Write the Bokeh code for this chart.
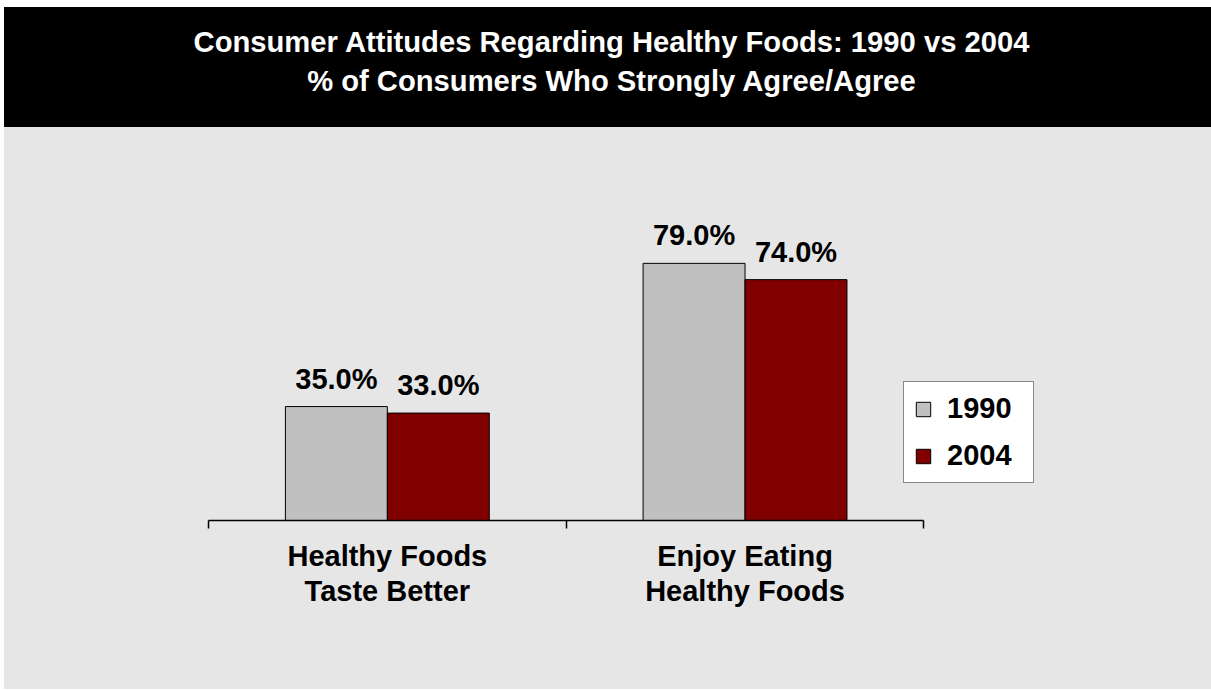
from bokeh.plotting import figure
from bokeh.models import (ColumnDataSource, Range1d, LinearAxis, FixedTicker, Legend,
                          LegendItem, Spacer, Div)
from bokeh.layouts import column, row
from bokeh.embed import file_html
from bokeh.resources import INLINE
from bokeh.core.properties import value

# ---- data ----
categories = ["Healthy Foods\nTaste Better", "Enjoy Eating\nHealthy Foods"]
years = ["1990", "2004"]
values_1990 = [35.0, 79.0]
values_2004 = [33.0, 74.0]
colors = ["#c0c0c0", "#800000"]
title_lines = ["Consumer Attitudes Regarding Healthy Foods: 1990 vs 2004",
               "% of Consumers Who Strongly Agree/Agree"]

FONT = "Liberation Sans"
FS = "29px"
BG = "#e6e6e6"
W = 0.285  # bar width in category units

n = len(categories)
centers = [i + 0.5 for i in range(n)]
src = ColumnDataSource(dict(
    center=centers,
    x1990=[c - W / 2 for c in centers],
    x2004=[c + W / 2 for c in centers],
    v1990=values_1990,
    v2004=values_2004,
    l1990=[f"{v:.1f}%" for v in values_1990],
    l2004=[f"{v:.1f}%" for v in values_2004],
))

# ---- header band ----
header_html = (
    '<div style="box-sizing:border-box;width:1207px;height:120px;margin:0;'
    'background:#000;color:#fff;font-family:\'Liberation Sans\',Arial,sans-serif;'
    'font-weight:bold;font-size:29.2px;line-height:39px;text-align:center;'
    'padding:16px 0 0 8px;white-space:nowrap;">'
    + "<br>".join(title_lines) + "</div>"
)
header = Div(text=header_html, width=1207, height=120, margin=0)

# ---- main chart ----
p = figure(width=1207, height=562,
           x_range=Range1d(0, 2.6), y_range=Range1d(0, 110.6),
           x_axis_location=None, y_axis_location=None, toolbar_location=None,
           output_backend="svg",
           min_border_left=204, min_border_right=73, min_border_top=33, min_border_bottom=169,
           background_fill_color=None, border_fill_color=None, outline_line_color=None,
           styles={"background-color": BG})
p.grid.visible = False

tick_axis = LinearAxis(ticker=FixedTicker(ticks=list(range(n + 1)), minor_ticks=[]),
                       bounds=(0, n),
                       major_label_overrides={i: "" for i in range(n + 1)},
                       major_label_text_font_size="0px", major_label_standoff=0,
                       major_tick_in=0, major_tick_out=8,
                       axis_line_color="black", axis_line_width=1.5,
                       major_tick_line_color="black", major_tick_line_width=1.5)
p.add_layout(tick_axis, "below")

cat_axis = LinearAxis(ticker=FixedTicker(ticks=centers, minor_ticks=[]),
                      major_label_overrides={c: lab for c, lab in zip(centers, categories)},
                      axis_line_color=None, major_tick_line_color=None,
                      major_tick_in=0, major_tick_out=0,
                      major_label_text_font=FONT, major_label_text_font_style="bold",
                      major_label_text_font_size=FS, major_label_text_color="black",
                      major_label_text_line_height=1.12, major_label_standoff=11)
p.add_layout(cat_axis, "below")

r1 = p.vbar(x="x1990", top="v1990", width=W, source=src,
            fill_color=colors[0], line_color="black", line_width=1)
r2 = p.vbar(x="x2004", top="v2004", width=W, source=src,
            fill_color=colors[1], line_color="black", line_width=1)

for key in years:
    p.text(x="x" + key, y="v" + key, text="l" + key, source=src,
           text_align="center", text_baseline="middle", y_offset=-28,
           text_font=value(FONT), text_font_style="bold", text_font_size=FS,
           text_color="black")

legend = Legend(items=[LegendItem(label=years[0], renderers=[r1]),
                       LegendItem(label=years[1], renderers=[r2])],
                location=(695, 37), orientation="vertical",
                border_line_color="#111111", border_line_width=1.5,
                background_fill_color="white", background_fill_alpha=1.0,
                label_text_font=FONT, label_text_font_style="bold", label_text_font_size=FS,
                label_text_color="black",
                glyph_width=18, glyph_height=18, label_standoff=15,
                padding=10, spacing=14, margin=0, label_width=76)
p.add_layout(legend, "center")

layout = row(Spacer(width=4, height=689),
             column(Spacer(width=1207, height=7), header, p))

open("out.html", "w").write(file_html(layout, INLINE))
